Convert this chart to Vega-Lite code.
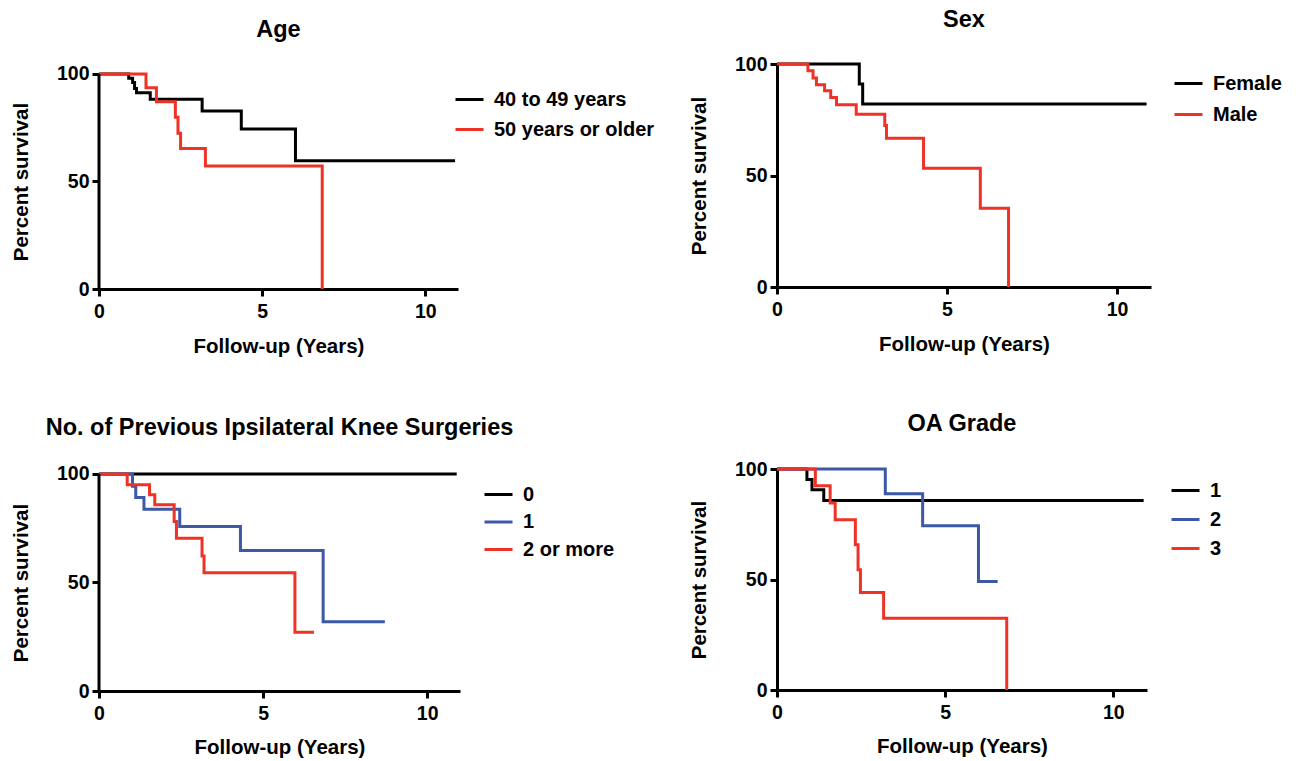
{
  "$schema": "https://vega.github.io/schema/vega-lite/v6.json",
  "padding": {"left": 10, "top": 7, "right": 5, "bottom": 2},
  "datasets": {
    "age": [
      {"t": 0, "s": 100, "g": "40 to 49 years"},
      {"t": 0.91, "s": 98, "g": "40 to 49 years"},
      {"t": 1.03, "s": 96, "g": "40 to 49 years"},
      {"t": 1.09, "s": 93.3, "g": "40 to 49 years"},
      {"t": 1.15, "s": 91.3, "g": "40 to 49 years"},
      {"t": 1.57, "s": 88.2, "g": "40 to 49 years"},
      {"t": 3.16, "s": 82.8, "g": "40 to 49 years"},
      {"t": 4.36, "s": 74.4, "g": "40 to 49 years"},
      {"t": 6.02, "s": 59.7, "g": "40 to 49 years"},
      {"t": 10.91, "s": 59.7, "g": "40 to 49 years"},
      {"t": 0, "s": 100, "g": "50 years or older"},
      {"t": 1.44, "s": 93.6, "g": "50 years or older"},
      {"t": 1.76, "s": 87.1, "g": "50 years or older"},
      {"t": 2.34, "s": 79.9, "g": "50 years or older"},
      {"t": 2.42, "s": 72.4, "g": "50 years or older"},
      {"t": 2.5, "s": 65.4, "g": "50 years or older"},
      {"t": 3.26, "s": 57.2, "g": "50 years or older"},
      {"t": 6.84, "s": 0, "g": "50 years or older"}
    ],
    "sex": [
      {"t": 0, "s": 100, "g": "Female"},
      {"t": 2.42, "s": 91, "g": "Female"},
      {"t": 2.52, "s": 82.1, "g": "Female"},
      {"t": 10.87, "s": 82.1, "g": "Female"},
      {"t": 0, "s": 100, "g": "Male"},
      {"t": 0.91, "s": 97, "g": "Male"},
      {"t": 1.06, "s": 93.7, "g": "Male"},
      {"t": 1.16, "s": 90.7, "g": "Male"},
      {"t": 1.4, "s": 88, "g": "Male"},
      {"t": 1.58, "s": 85, "g": "Male"},
      {"t": 1.75, "s": 81.7, "g": "Male"},
      {"t": 2.33, "s": 77.5, "g": "Male"},
      {"t": 3.17, "s": 72.4, "g": "Male"},
      {"t": 3.22, "s": 66.7, "g": "Male"},
      {"t": 4.31, "s": 53.2, "g": "Male"},
      {"t": 5.98, "s": 35.3, "g": "Male"},
      {"t": 6.81, "s": 0, "g": "Male"}
    ],
    "surg": [
      {"t": 0, "s": 100, "g": "0"},
      {"t": 10.9, "s": 100, "g": "0"},
      {"t": 0, "s": 100, "g": "1"},
      {"t": 1.02, "s": 94.3, "g": "1"},
      {"t": 1.12, "s": 89.2, "g": "1"},
      {"t": 1.37, "s": 83.8, "g": "1"},
      {"t": 2.46, "s": 75.8, "g": "1"},
      {"t": 4.31, "s": 64.7, "g": "1"},
      {"t": 6.83, "s": 31.9, "g": "1"},
      {"t": 8.71, "s": 31.9, "g": "1"},
      {"t": 0, "s": 100, "g": "2 or more"},
      {"t": 0.86, "s": 95.1, "g": "2 or more"},
      {"t": 1.54, "s": 90.4, "g": "2 or more"},
      {"t": 1.7, "s": 85.8, "g": "2 or more"},
      {"t": 2.29, "s": 78.1, "g": "2 or more"},
      {"t": 2.36, "s": 70.4, "g": "2 or more"},
      {"t": 3.14, "s": 62.2, "g": "2 or more"},
      {"t": 3.2, "s": 54.5, "g": "2 or more"},
      {"t": 5.97, "s": 27.1, "g": "2 or more"},
      {"t": 6.55, "s": 27.1, "g": "2 or more"}
    ],
    "oa": [
      {"t": 0, "s": 100, "g": "1"},
      {"t": 0.89, "s": 95.2, "g": "1"},
      {"t": 1.04, "s": 90.6, "g": "1"},
      {"t": 1.39, "s": 85.8, "g": "1"},
      {"t": 10.9, "s": 85.8, "g": "1"},
      {"t": 0, "s": 100, "g": "2"},
      {"t": 3.22, "s": 88.8, "g": "2"},
      {"t": 4.33, "s": 74.3, "g": "2"},
      {"t": 5.99, "s": 49.1, "g": "2"},
      {"t": 6.56, "s": 49.1, "g": "2"},
      {"t": 0, "s": 100, "g": "3"},
      {"t": 1.14, "s": 92.4, "g": "3"},
      {"t": 1.58, "s": 84.6, "g": "3"},
      {"t": 1.73, "s": 77, "g": "3"},
      {"t": 2.33, "s": 65.7, "g": "3"},
      {"t": 2.41, "s": 54.4, "g": "3"},
      {"t": 2.48, "s": 44.1, "g": "3"},
      {"t": 3.17, "s": 32.5, "g": "3"},
      {"t": 6.83, "s": 0, "g": "3"}
    ]
  },
  "concat": [
    {
      "width": 359,
      "height": 225,
      "title": {"text": "Age", "offset": 22},
      "layer": [
        {
          "data": {"name": "age"},
          "mark": {"type": "line", "interpolate": "step-after", "strokeWidth": 3},
          "encoding": {
            "x": {"field": "t", "type": "quantitative", "scale": {"domain": [0, 11], "nice": false}, "axis": {"values": [0, 5, 10], "title": "Follow-up (Years)"}},
            "y": {"field": "s", "type": "quantitative", "scale": {"domain": [0, 104.65], "nice": false}, "axis": {"values": [0, 50, 100], "title": "Percent survival", "domain": false, "titleY": 117.5}},
            "color": {"field": "g", "type": "nominal", "scale": {"domain": ["40 to 49 years", "50 years or older"], "range": ["#000000", "#ee3226"]}, "legend": {"orient": "none", "legendX": 355, "legendY": 20, "rowPadding": 4, "labelOffset": 9}}
          }
        },
        {
          "data": {"values": [{"a": 0}]},
          "mark": {"type": "rule", "strokeWidth": 3, "color": "#000000"},
          "encoding": {
            "x": {"datum": 0, "type": "quantitative"},
            "y": {"datum": 0, "type": "quantitative"},
            "y2": {"datum": 100}
          }
        }
      ]
    },
    {
      "width": 374,
      "height": 223,
      "title": {"text": "Sex", "offset": 23},
      "data": {"name": "sex"},
      "mark": {"type": "line", "interpolate": "step-after", "strokeWidth": 3},
      "encoding": {
        "x": {"field": "t", "type": "quantitative", "scale": {"domain": [0, 11], "nice": false}, "axis": {"values": [0, 5, 10], "title": "Follow-up (Years)"}},
        "y": {"field": "s", "type": "quantitative", "scale": {"domain": [0, 100], "nice": false}, "axis": {"values": [0, 50, 100], "title": "Percent survival"}},
        "color": {"field": "g", "type": "nominal", "scale": {"domain": ["Female", "Male"], "range": ["#000000", "#ee3226"]}, "legend": {"orient": "none", "legendX": 396, "legendY": 4, "rowPadding": 5, "labelOffset": 9}}
      }
    },
    {
      "width": 361,
      "height": 222,
      "title": {"text": "No. of Previous Ipsilateral Knee Surgeries", "offset": 24},
      "layer": [
        {
          "data": {"name": "surg"},
          "mark": {"type": "line", "interpolate": "step-after", "strokeWidth": 3},
          "encoding": {
            "x": {"field": "t", "type": "quantitative", "scale": {"domain": [0, 11], "nice": false}, "axis": {"values": [0, 5, 10], "title": "Follow-up (Years)", "titleY": 62}},
            "y": {"field": "s", "type": "quantitative", "scale": {"domain": [0, 102.3], "nice": false}, "axis": {"values": [0, 50, 100], "title": "Percent survival", "domain": false, "titleY": 113.5}},
            "color": {"field": "g", "type": "nominal", "scale": {"domain": ["0", "1", "2 or more"], "range": ["#000000", "#3c58a6", "#ee3226"]}, "legend": {"orient": "none", "legendX": 384, "legendY": 10, "rowPadding": 1.5, "labelOffset": 9}}
          }
        },
        {
          "data": {"values": [{"a": 0}]},
          "mark": {"type": "rule", "strokeWidth": 3, "color": "#000000"},
          "encoding": {
            "x": {"datum": 0, "type": "quantitative"},
            "y": {"datum": 0, "type": "quantitative"},
            "y2": {"datum": 100}
          }
        }
      ]
    },
    {
      "width": 370,
      "height": 221,
      "title": {"text": "OA Grade", "offset": 24},
      "data": {"name": "oa"},
      "mark": {"type": "line", "interpolate": "step-after", "strokeWidth": 3},
      "encoding": {
        "x": {"field": "t", "type": "quantitative", "scale": {"domain": [0, 11], "nice": false}, "axis": {"values": [0, 5, 10], "title": "Follow-up (Years)", "titleY": 62}},
        "y": {"field": "s", "type": "quantitative", "scale": {"domain": [0, 100], "nice": false}, "axis": {"values": [0, 50, 100], "title": "Percent survival"}},
        "color": {"field": "g", "type": "nominal", "scale": {"domain": ["1", "2", "3"], "range": ["#000000", "#3c58a6", "#ee3226"]}, "legend": {"orient": "none", "legendX": 393, "legendY": 6, "rowPadding": 3, "labelOffset": 9}}
      }
    }
  ],
  "columns": 2,
  "spacing": {"row": 180, "column": 317},
  "bounds": "flush",
  "resolve": {"scale": {"color": "independent", "x": "independent", "y": "independent"}, "legend": {"color": "independent"}, "axis": {"x": "independent", "y": "independent"}},
  "config": {
    "font": "Liberation Sans",
    "view": {"stroke": null},
    "axis": {
      "domainColor": "#000000",
      "domainWidth": 3,
      "tickColor": "#000000",
      "tickWidth": 3,
      "tickSize": 7,
      "grid": false,
      "labelColor": "#000000",
      "labelFontSize": 19.5,
      "labelFontWeight": "bold",
      "labelFlush": false,
      "labelPadding": 3,
      "titleColor": "#000000",
      "titleFontSize": 20.5,
      "titleFontWeight": "bold"
    },
    "axisX": {"labelPadding": 6, "titleY": 63, "titleBaseline": "alphabetic"},
    "axisY": {"titleX": -72, "titleBaseline": "alphabetic"},
    "title": {"fontSize": 23.5, "fontWeight": "bold", "color": "#000000", "frame": "group", "baseline": "alphabetic", "anchor": "middle"},
    "legend": {
      "title": null,
      "padding": 0,
      "symbolType": "stroke",
      "symbolSize": 784,
      "symbolStrokeWidth": 3,
      "labelFontSize": 20,
      "labelFontWeight": "bold",
      "labelColor": "#000000",
      "labelLimit": 400
    }
  }
}
